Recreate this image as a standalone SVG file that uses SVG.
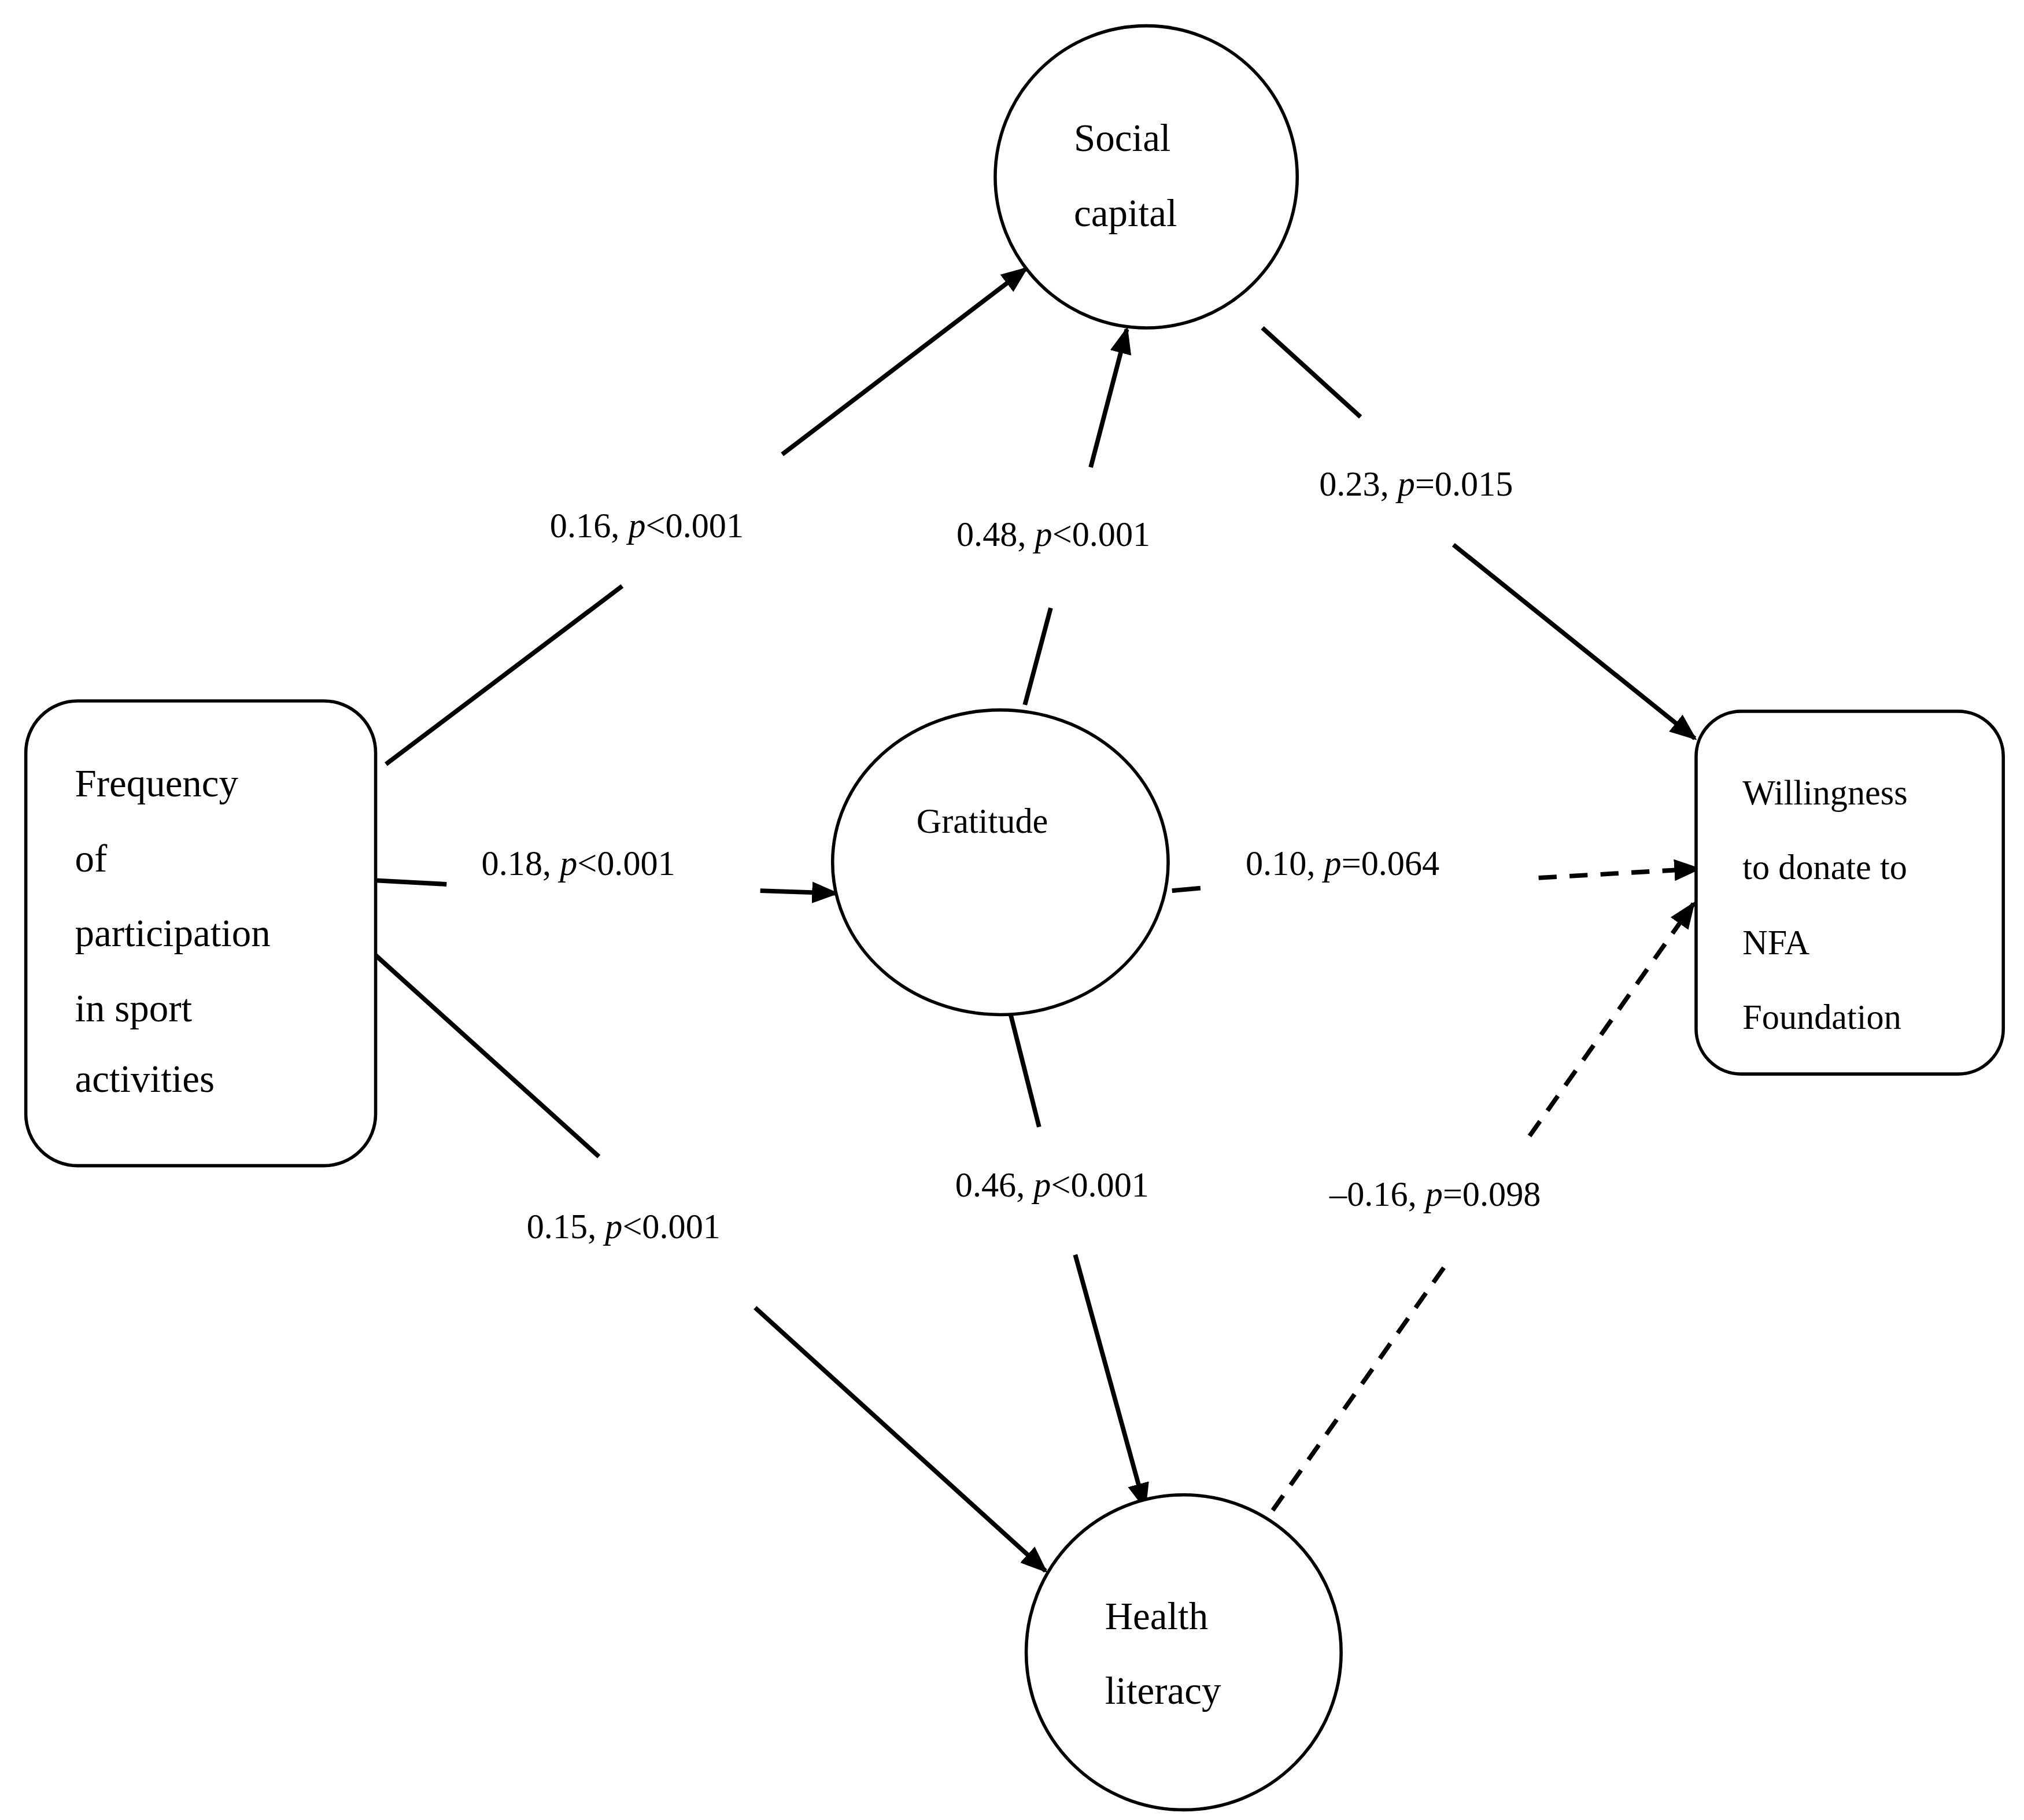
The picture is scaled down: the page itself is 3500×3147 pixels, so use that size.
<svg xmlns="http://www.w3.org/2000/svg" width="3500" height="3147" viewBox="0 0 3500 3147">
<defs>
<marker id="ah" viewBox="0 0 10 8" refX="9" refY="4" markerWidth="6" markerHeight="4.8" orient="auto" markerUnits="strokeWidth"><path d="M0,0 L10,4 L0,8 z" fill="#000"/></marker>
<style>
.n{fill:#fff;stroke:#000;stroke-width:2.5}
.t{font-family:"Liberation Serif","DejaVu Serif",serif;font-size:30px;fill:#000}
.l{font-family:"Liberation Serif","DejaVu Serif",serif;font-size:27px;fill:#000}
.c{stroke:#000;stroke-width:3.5;fill:none}
.d{stroke-dasharray:14,10}
</style>
</defs>
<rect width="3500" height="3147" fill="#fff"/>
<g transform="scale(2.2321)">
<g id="connectors">
<line class="c" x1="299" y1="592" x2="482" y2="454"/>
<line class="c" x1="606" y1="352" x2="795" y2="208" marker-end="url(#ah)"/>
<line class="c" x1="794" y1="546" x2="814" y2="471"/>
<line class="c" x1="845" y1="362" x2="873" y2="255" marker-end="url(#ah)"/>
<line class="c" x1="978" y1="254" x2="1054" y2="323"/>
<line class="c" x1="1126" y1="422" x2="1313" y2="572" marker-end="url(#ah)"/>
<line class="c" x1="291" y1="682" x2="346" y2="685"/>
<line class="c" x1="589" y1="690" x2="648" y2="692" marker-end="url(#ah)"/>
<line class="c" x1="908" y1="690" x2="930" y2="688"/>
<line class="c d" x1="1192" y1="680" x2="1316" y2="673" marker-end="url(#ah)"/>
<line class="c" x1="291" y1="740" x2="464" y2="896"/>
<line class="c" x1="585" y1="1013" x2="810" y2="1217" marker-end="url(#ah)"/>
<line class="c" x1="783" y1="786" x2="805" y2="873"/>
<line class="c" x1="833" y1="972" x2="887" y2="1168" marker-end="url(#ah)"/>
<line class="c d" x1="986" y1="1170" x2="1120" y2="980"/>
<line class="c d" x1="1185" y1="880" x2="1312" y2="700" marker-end="url(#ah)"/>
<text class="l" x="426" y="416">0.16, <tspan font-style="italic">p</tspan>&lt;0.001</text>
<text class="l" x="741" y="423">0.48, <tspan font-style="italic">p</tspan>&lt;0.001</text>
<text class="l" x="1022" y="384">0.23, <tspan font-style="italic">p</tspan>=0.015</text>
<text class="l" x="373" y="678">0.18, <tspan font-style="italic">p</tspan>&lt;0.001</text>
<text class="l" x="965" y="678">0.10, <tspan font-style="italic">p</tspan>=0.064</text>
<text class="l" x="408" y="959">0.15, <tspan font-style="italic">p</tspan>&lt;0.001</text>
<text class="l" x="740" y="927">0.46, <tspan font-style="italic">p</tspan>&lt;0.001</text>
<text class="l" x="1030" y="934">–0.16, <tspan font-style="italic">p</tspan>=0.098</text>
</g>
<g id="social"><circle class="n" cx="888" cy="137" r="117"/><text class="t" x="832" y="117">Social</text><text class="t" x="832" y="175">capital</text></g>
<g id="gratitude"><ellipse class="n" cx="775" cy="668" rx="130" ry="118"/><text class="l" x="710" y="645">Gratitude</text></g>
<g id="health"><circle class="n" cx="917" cy="1280" r="122"/><text class="t" x="856" y="1262">Health</text><text class="t" x="856" y="1320">literacy</text></g>
<g id="frequency"><rect class="n" x="20" y="543" width="271" height="360" rx="40"/>
<text class="t" x="58" y="617">Frequency</text><text class="t" x="58" y="675">of</text><text class="t" x="58" y="733">participation</text><text class="t" x="58" y="791">in sport</text><text class="t" x="58" y="846">activities</text></g>
<g id="willingness"><rect class="n" x="1314" y="551" width="238" height="281" rx="35"/>
<text class="l" x="1350" y="623">Willingness</text><text class="l" x="1350" y="681">to donate to</text><text class="l" x="1350" y="739">NFA</text><text class="l" x="1350" y="797">Foundation</text></g>
</g>
</svg>
